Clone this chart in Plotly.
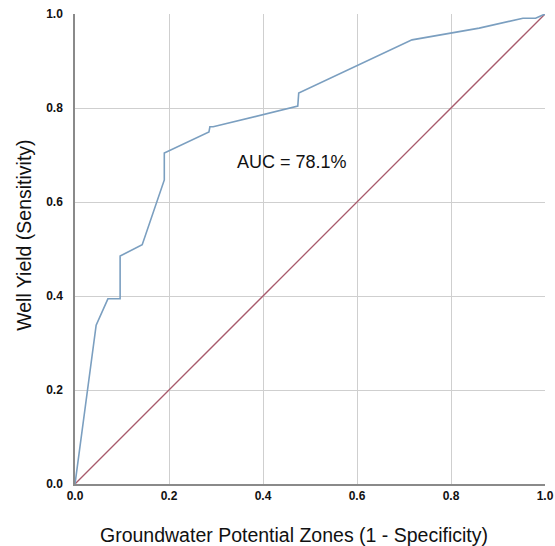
import plotly.graph_objects as go

fpr = [0.0, 0.045, 0.070, 0.096, 0.096, 0.143, 0.190, 0.190, 0.285, 0.287, 0.294, 0.474, 0.476, 0.717, 0.860, 0.953, 0.980, 1.0]
tpr = [0.0, 0.338, 0.394, 0.394, 0.485, 0.509, 0.647, 0.704, 0.749, 0.760, 0.760, 0.804, 0.832, 0.945, 0.970, 0.991, 0.991, 1.0]
ref_x = [0.0, 1.0]
ref_y = [0.0, 1.0]
tick_vals = [0.0, 0.2, 0.4, 0.6, 0.8, 1.0]
tick_text = ["0.0", "0.2", "0.4", "0.6", "0.8", "1.0"]
auc_label = "AUC = 78.1%"
x_title = "Groundwater Potential Zones (1 - Specificity)"
y_title = "Well Yield (Sensitivity)"

fig = go.Figure()
fig.add_trace(go.Scatter(x=ref_x, y=ref_y, mode="lines",
                         line=dict(color="#a85a6c", width=1.3), showlegend=False))
fig.add_trace(go.Scatter(x=fpr, y=tpr, mode="lines",
                         line=dict(color="#7b9fc0", width=1.6), showlegend=False))

fig.add_annotation(x=0.461, y=0.685, text=auc_label, showarrow=False,
                   font=dict(family="Liberation Sans, Arial", size=18, color="#111"))

title_font = dict(family="Liberation Sans, Arial", size=19.5, color="#111")
fig.add_annotation(xref="paper", yref="paper", x=0.466, y=-0.1085, text=x_title,
                   showarrow=False, xanchor="center", yanchor="middle", font=title_font)
fig.add_annotation(xref="paper", yref="paper", x=-0.1085, y=0.528, text=y_title,
                   showarrow=False, xanchor="center", yanchor="middle", textangle=-90,
                   font=title_font)

axis_common = dict(range=[0, 1], tickvals=tick_vals, ticktext=tick_text,
                   showgrid=True, gridcolor="#cfcfcf", gridwidth=1,
                   zeroline=False, showline=True, linecolor="#8a8a8a", linewidth=1.5,
                   ticks="", ticklabeloverflow="allow", automargin=False,
                   tickfont=dict(family="Liberation Sans, Arial", size=12,
                                 color="#111", weight="bold"))

fig.update_xaxes(**axis_common)
fig.update_yaxes(**axis_common, ticklabelstandoff=8)

fig.update_layout(width=555, height=546, margin=dict(l=75, r=10, t=14, b=62),
                  plot_bgcolor="white", paper_bgcolor="white")

fig.write_html("out.html", config={"displayModeBar": False},
               post_script="document.body.style.margin='0';document.body.style.overflow='hidden';")
